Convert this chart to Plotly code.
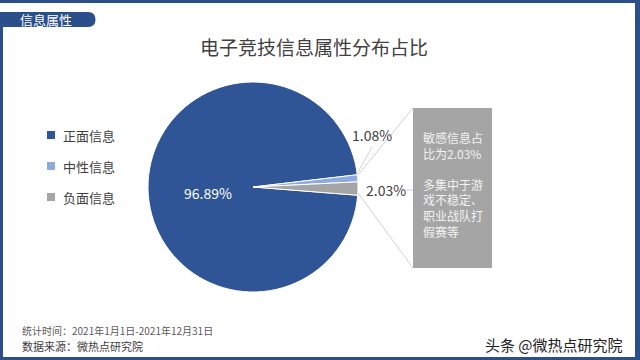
import plotly.graph_objects as go

# ---- data ----
labels = ["正面信息", "中性信息", "负面信息"]
values = [96.89, 1.08, 2.03]
colors = ["#2F5597", "#8FAADC", "#A5A5A5"]
title_text = "电子竞技信息属性分布占比"
tag_text = "信息属性"
box_text = "敏感信息占<br>比为2.03%<br><br>多集中于游<br>戏不稳定、<br>职业战队打<br>假赛等"
footer_lines = ["统计时间：2021年1月1日-2021年12月31日", "数据来源：微热点研究院"]
watermark = "头条 @微热点研究院"

W, H = 640, 360
FONT = "Noto Sans CJK SC"
FRAME = "#2B4F8A"


def px(x):
    return x / W


def py(y):
    return 1 - y / H


def pt(x, y):
    return f"{px(x):.5f},{py(y):.5f}"


# pie geometry (pixels)
cx, cy, r = 253, 187, 105

fig = go.Figure()
fig.add_trace(go.Pie(
    labels=labels, values=values, sort=False, direction="clockwise",
    rotation=94.5,
    marker=dict(colors=colors, line=dict(color="white", width=1)),
    textinfo="none", hoverinfo="label+percent", showlegend=False,
    domain=dict(x=[px(cx - r), px(cx + r)], y=[py(cy + r), py(cy - r)]),
))

shapes = []
annotations = []


def rect(x0, y0, x1, y1, color):
    shapes.append(dict(type="rect", xref="paper", yref="paper",
                       x0=px(x0), x1=px(x1), y0=py(y1), y1=py(y0),
                       fillcolor=color, line=dict(width=0), layer="above"))


def line(x0, y0, x1, y1, color="#D0D0D0", width=1):
    shapes.append(dict(type="line", xref="paper", yref="paper",
                       x0=px(x0), y0=py(y0), x1=px(x1), y1=py(y1),
                       line=dict(color=color, width=width)))


def text(x, y, s, size, color, xanchor="left", yanchor="middle", align="left"):
    annotations.append(dict(x=px(x), y=py(y), xref="paper", yref="paper",
                            text=s, showarrow=False, xanchor=xanchor,
                            yanchor=yanchor, align=align,
                            font=dict(family=FONT, size=size, color=color)))


# frame
rect(0, 0, 640, 3, FRAME)
rect(0, 12, 3, 360, FRAME)
rect(635, 0, 640, 360, FRAME)
rect(0, 357, 640, 360, FRAME)
# tag
shapes.append(dict(type="path", xref="paper", yref="paper",
                   path=f"M{pt(0,12)} L{pt(88,12)} Q{pt(95.5,12)} {pt(95.5,19.5)} "
                        f"Q{pt(95.5,27)} {pt(88,27)} L{pt(0,27)} Z",
                   fillcolor=FRAME, line=dict(width=0)))
text(18, 19.5, tag_text, 13, "white")

# title
text(314, 46, title_text, 19, "#404040", xanchor="center")

# legend (manual)
leg_y = [135, 166, 197]
for lab, col, yy in zip(labels, colors, leg_y):
    rect(47, yy - 4, 55, yy + 4, col)
    text(61, yy, lab, 13, "#404040")

# slice labels
pct = [f"{v:.2f}%" for v in values]
text(208, 193, pct[0], 14, "white", xanchor="center")
text(372, 135, pct[1], 14, "#404040", xanchor="center")
text(386, 190, pct[2], 14, "#404040", xanchor="center")
line(372, 147, 358, 172)
line(406, 190, 413, 190)

# callout
line(358, 175, 413, 108)
line(358, 193, 413, 268)
rect(413, 108, 492, 268, "#A5A5A5")
text(421, 127, box_text, 12, "#F2F2F2", yanchor="top")

# footer
text(20, 330, footer_lines[0], 10, "#595959")
text(20, 345.5, footer_lines[1], 11, "#404040")
text(625, 344, watermark, 15, "#222222", xanchor="right")

fig.update_layout(
    width=W, height=H, margin=dict(l=0, r=0, t=0, b=0),
    paper_bgcolor="white", plot_bgcolor="white",
    shapes=shapes, annotations=annotations, showlegend=False,
)
fig.write_html("out.html", config={"displayModeBar": False},
               post_script="document.body.style.margin='0';document.body.style.overflow='hidden';")
